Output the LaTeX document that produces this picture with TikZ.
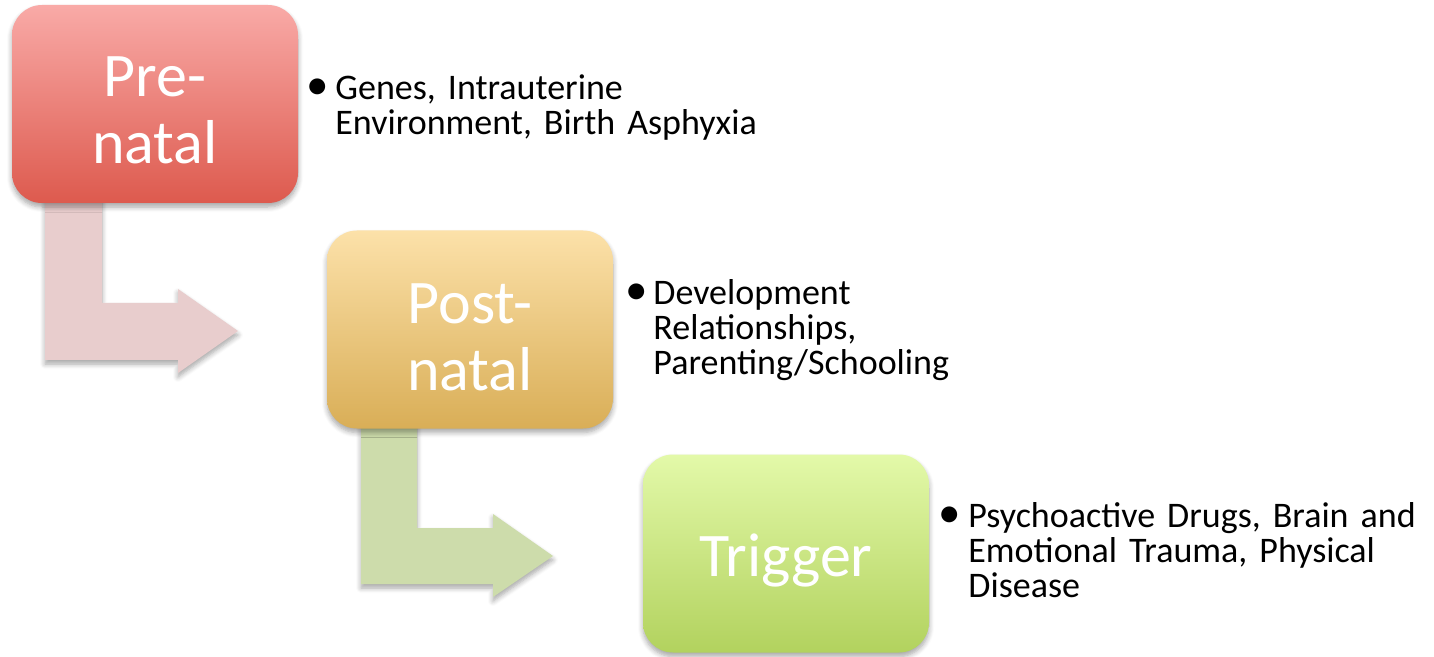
\documentclass[tikz,border=0pt]{standalone}
\usepackage{fontspec}
\setmainfont{Carlito}
\usetikzlibrary{shadows.blur}

\definecolor{preTop}{HTML}{F9AAA7}
\definecolor{preBot}{HTML}{DD5A4E}
\definecolor{postTop}{HTML}{FCE1A9}
\definecolor{postBot}{HTML}{D9AE57}
\definecolor{trigTop}{HTML}{E3F9A9}
\definecolor{trigBot}{HTML}{B2D25E}
\definecolor{arrowPink}{HTML}{E8CDCD}
\definecolor{arrowGreen}{HTML}{CDDCAB}

\tikzset{
  softshadow/.style={blur shadow={shadow xshift=0pt, shadow yshift=-2pt,
      shadow opacity=35, shadow blur steps=6, shadow blur radius=2.5pt}},
  stagebox/.style={rounded corners=15pt, minimum width=143pt, minimum height=99pt,
      inner sep=0pt, softshadow},
  stagetitle/.style={inner sep=0pt, align=center, text=white,
      font=\fontsize{31}{33.5}\selectfont},
  bentarrow/.style={draw=none, softshadow},
  bulletmark/.style={anchor=base west, inner sep=0pt, font=\fontsize{18}{17.5}\selectfont},
  bullettext/.style={anchor=base west, inner sep=0pt, text width=250pt, align=left,
      font=\fontsize{18}{17.5}\selectfont},
}

\begin{document}
\begin{tikzpicture}[x=0.5pt, y=-0.5pt]
\useasboundingbox (0,0) rectangle (1434,657);

% bent arrows leading from one stage to the next
\fill[arrowPink, bentarrow] (45,170) -- (45,360) -- (178,360) -- (178,373) -- (238,331)
  -- (178,289) -- (178,303) -- (102,303) -- (102,170) -- cycle;
\fill[arrowGreen, bentarrow] (361,395) -- (361,584) -- (493,584) -- (493,597) -- (553,556)
  -- (493,514) -- (493,528) -- (417,528) -- (417,395) -- cycle;

% stage boxes
\node[stagebox, top color=preTop, bottom color=preBot] (pre) at (155,104) {};
\node[stagebox, top color=postTop, bottom color=postBot] (post) at (470,329.5) {};
\node[stagebox, top color=trigTop, bottom color=trigBot] (trig) at (786,553.5) {};

% stage titles
\node[stagetitle] (pretitle) at ([yshift=-3pt]pre.center) {Pre-\\natal};
\node[stagetitle] (posttitle) at ([yshift=-4pt]post.center) {Post-\\natal};
\node[stagetitle] (trigtitle) at ([yshift=-3.5pt]trig.center) {Trigger};

% bullet descriptions
\node[bulletmark] (preb) at (306,100) {\scalebox{1.25}{\textbullet}};
\node[bullettext] (pret) at (335,100) {Genes, Intrauterine\\Environment, Birth Asphyxia};

\node[bulletmark] (postb) at (625,305) {\scalebox{1.25}{\textbullet}};
\node[bullettext] (postt) at (653,305) {Development\\Relationships,\\Parenting/Schooling};

\node[bulletmark] (trigb) at (938,527) {\scalebox{1.25}{\textbullet}};
\node[bullettext] (trigt) at (968,527) {Psychoactive Drugs, Brain and\\Emotional Trauma, Physical\\Disease};
\end{tikzpicture}
\end{document}
